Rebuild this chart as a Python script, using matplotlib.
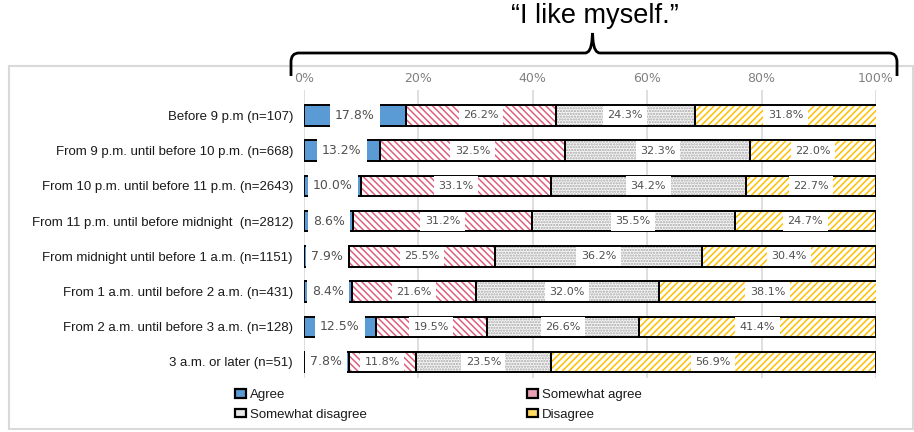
import matplotlib
matplotlib.use("Agg")
import matplotlib.pyplot as plt
from matplotlib.patches import Rectangle, Patch, PathPatch
from matplotlib.path import Path
import numpy as np

categories = [
    "Before 9 p.m (n=107)",
    "From 9 p.m. until before 10 p.m. (n=668)",
    "From 10 p.m. until before 11 p.m. (n=2643)",
    "From 11 p.m. until before midnight  (n=2812)",
    "From midnight until before 1 a.m. (n=1151)",
    "From 1 a.m. until before 2 a.m. (n=431)",
    "From 2 a.m. until before 3 a.m. (n=128)",
    "3 a.m. or later (n=51)",
]
agree = [17.8, 13.2, 10.0, 8.6, 7.9, 8.4, 12.5, 7.8]
somewhat_agree = [26.2, 32.5, 33.1, 31.2, 25.5, 21.6, 19.5, 11.8]
somewhat_disagree = [24.3, 32.3, 34.2, 35.5, 36.2, 32.0, 26.6, 23.5]
disagree = [31.8, 22.0, 22.7, 24.7, 30.4, 38.1, 41.4, 56.9]
series_names = ["Agree", "Somewhat agree", "Somewhat disagree", "Disagree"]
tick_values = [0, 20, 40, 60, 80, 100]
title = "\u201cI like myself.\u201d"

W, H = 914, 432
fig = plt.figure(figsize=(W / 100, H / 100), dpi=100)
sans = ["Liberation Sans", "DejaVu Sans"]
plt.rcParams["hatch.linewidth"] = 1.1

def fx(x):
    return x / W

def fy(y):
    return 1 - y / H

# outer frame
fig.patches.append(Rectangle((fx(9), fy(429)), fx(913) - fx(9), fy(66) - fy(429),
                             transform=fig.transFigure, fill=False,
                             edgecolor="#D9D9D9", linewidth=1.5, zorder=0))

ax = fig.add_axes([fx(304), fy(378), fx(876) - fx(304), fy(90) - fy(378)])
ax.set_xlim(0, 100)
ax.set_ylim(7.455, -0.724)

styles = [
    dict(color="#5B9BD5", hatch=None, hc="#5B9BD5"),
    dict(color="white", hatch="\\" * 5, hc="#E0607E"),
    dict(color="#F7F7F7", hatch="." * 6, hc="#A6A6A6"),
    dict(color="white", hatch="/" * 5, hc="#FFC000"),
]
data = [agree, somewhat_agree, somewhat_disagree, disagree]
y = np.arange(len(categories))
bh = 0.58
left = np.zeros(len(categories))
for k, (vals, st) in enumerate(zip(data, styles)):
    vals = np.array(vals)
    ax.barh(y, vals, left=left, height=bh, color=st["color"], hatch=st["hatch"],
            edgecolor=st["hc"], linewidth=0, zorder=2)
    ax.barh(y, vals, left=left, height=bh, fill=False, edgecolor="black",
            linewidth=1.4, zorder=3)
    for i, v in enumerate(vals):
        ax.text(left[i] + v / 2, y[i], f"{v:.1f}%", ha="center", va="center",
                fontsize=9 if k == 0 else 8, color="#505050",
                family="DejaVu Sans", zorder=4,
                bbox=dict(boxstyle="square,pad=0.4", facecolor="white",
                          edgecolor="none"))
    left = left + vals

ax.set_yticks(y)
ax.set_yticklabels(categories, family=sans, fontsize=9.5, color="#1A1A1A")
ax.set_xticks(tick_values)
ax.set_xticklabels([f"{t}%" for t in tick_values], family="DejaVu Sans",
                   fontsize=9, color="#808080")
ax.xaxis.tick_top()
ax.tick_params(axis="x", length=0, pad=3.5)
ax.tick_params(axis="y", length=0, pad=8)
for s in ax.spines.values():
    s.set_visible(False)
ax.grid(axis="x", color="#D9D9D9", linewidth=1.2, zorder=0)
ax.set_axisbelow(True)

# title and brace
fig.text(fx(594.5), fy(16), title, ha="center", va="center",
         family=sans, fontsize=19.5, color="black")
verts = [
    (291, 76), (291, 62), (291, 53), (299, 53),
    (585, 53), (591, 53), (592, 40), (592.5, 33),
    (593, 40), (594, 53), (600, 53),
    (889, 53), (897, 53), (897, 62), (897, 76),
]
codes = [Path.MOVETO, Path.LINETO, Path.CURVE3, Path.CURVE3,
         Path.LINETO, Path.CURVE3, Path.CURVE3, Path.LINETO,
         Path.LINETO, Path.CURVE3, Path.CURVE3,
         Path.LINETO, Path.CURVE3, Path.CURVE3, Path.LINETO]
path = Path([(fx(a), fy(b)) for a, b in verts], codes)
fig.patches.append(PathPatch(path, transform=fig.transFigure, fill=False,
                             edgecolor="black", linewidth=2.0))

# legend (two columns)
handles = [Patch(facecolor=c, edgecolor="black", linewidth=1.6, label=n)
           for c, n in zip(["#5B9BD5", "#E8A0B4", "#E8E8E8", "#FFD966"], series_names)]
common = dict(frameon=False, handlelength=0.85, handleheight=0.6,
              handletextpad=0.25, labelspacing=0.6, borderpad=0, borderaxespad=0,
              loc="upper left", prop=dict(family=sans, size=9.5))
leg1 = fig.legend([handles[0], handles[2]], [series_names[0], series_names[2]],
                  bbox_to_anchor=(fx(235), fy(389)), **common)
leg2 = fig.legend([handles[1], handles[3]], [series_names[1], series_names[3]],
                  bbox_to_anchor=(fx(527), fy(389)), **common)
for leg in (leg1, leg2):
    for t in leg.get_texts():
        t.set_color("#1A1A1A")

fig.savefig("out.png", dpi=100)
